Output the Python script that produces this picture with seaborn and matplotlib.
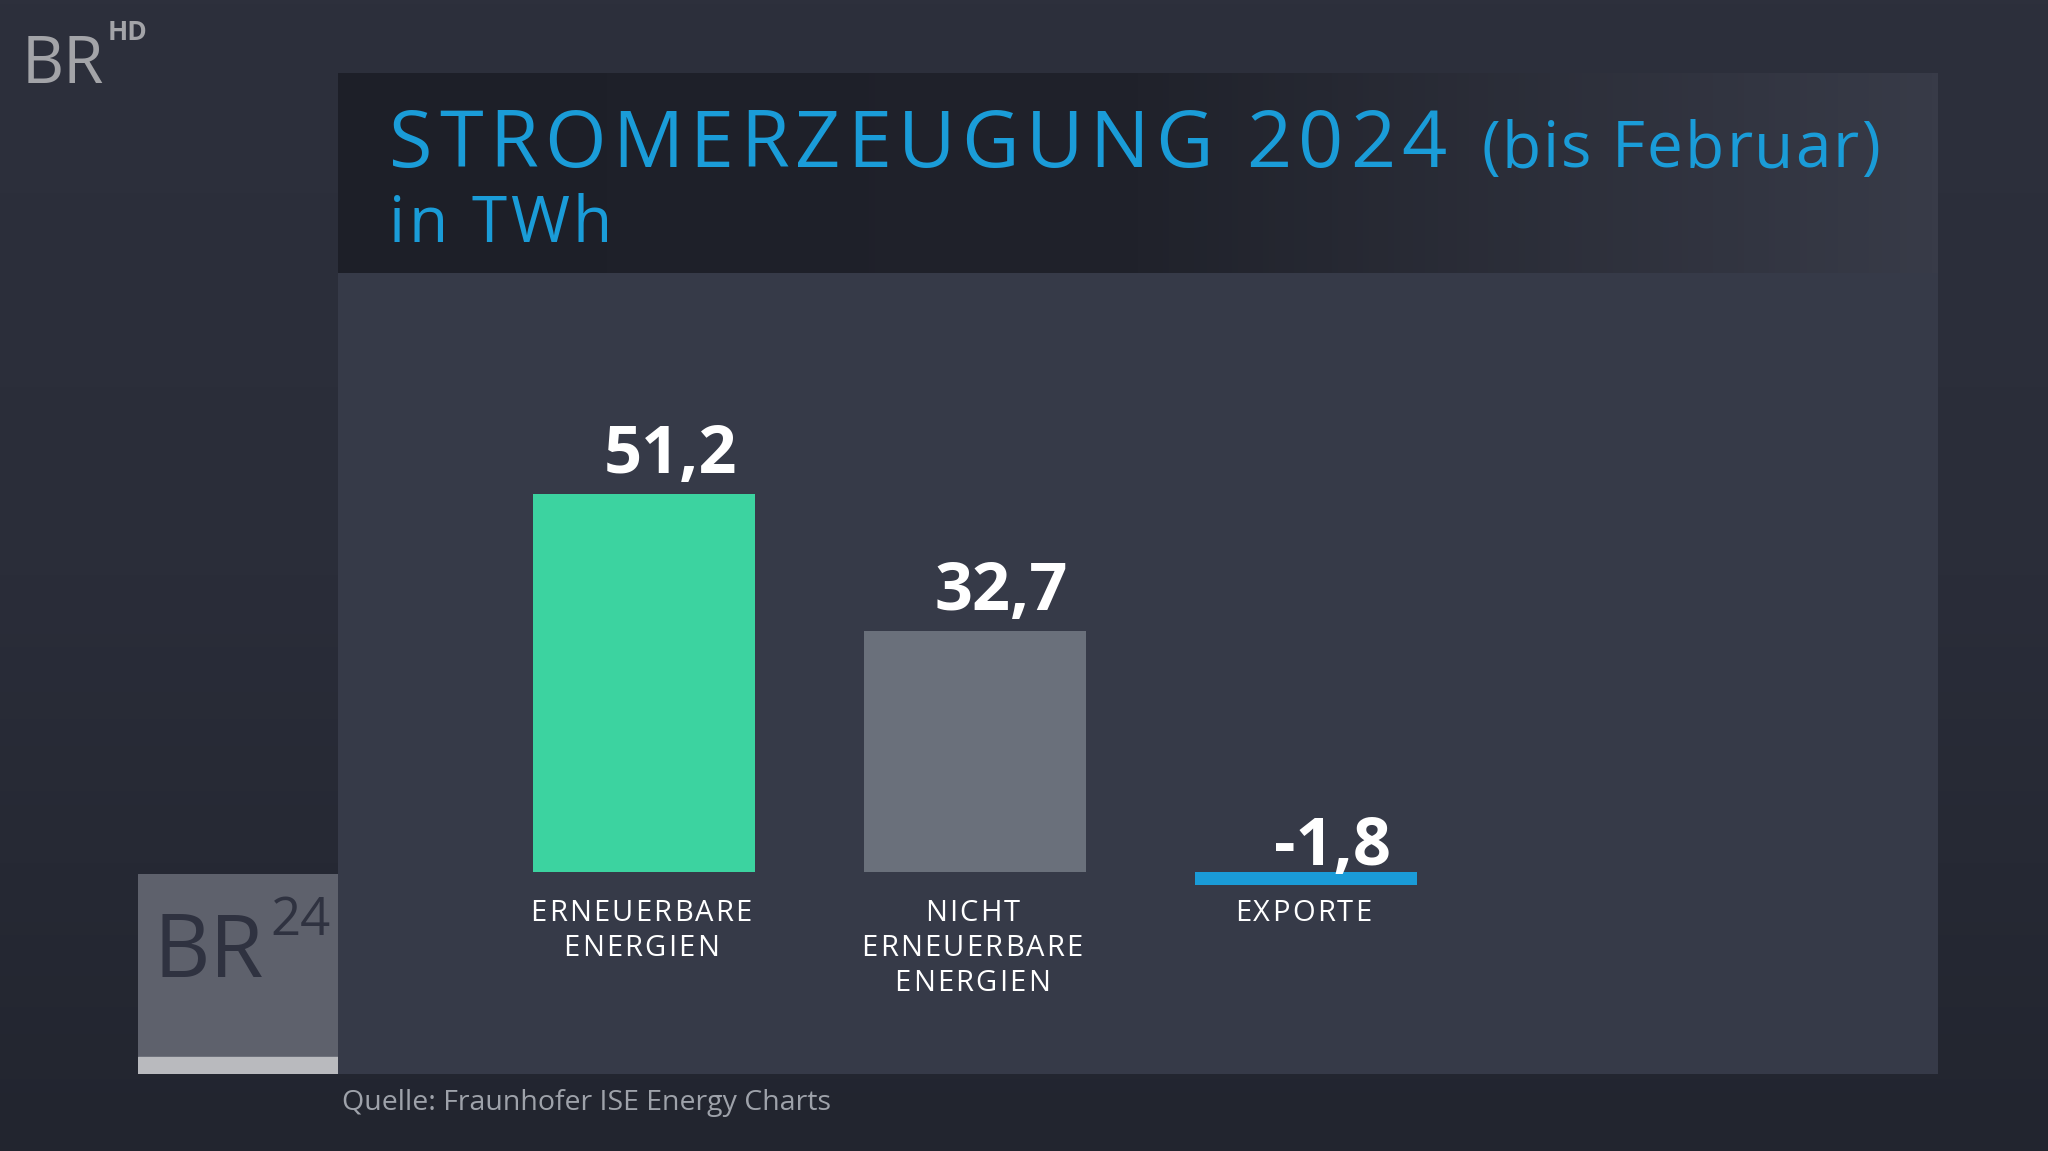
import numpy as np
import pandas as pd
import matplotlib.pyplot as plt
import seaborn as sns
from matplotlib.patches import Rectangle
from matplotlib.colors import LinearSegmentedColormap

#Chart data
categories = ['ERNEUERBARE\nENERGIEN', 'NICHT\nERNEUERBARE\nENERGIEN', 'EXPORTE']
values = [51.2, 32.7, -1.8]
value_labels = ['51,2', '32,7', '-1,8']
bar_colors = ['#3cd3a0', '#6a707b', '#1a9bd7']

title = 'STROMERZEUGUNG 2024'
title_extra = '(bis Februar)'
subtitle = 'in TWh'
source = 'Quelle: Fraunhofer ISE Energy Charts'

W, H = 2048, 1151
BLUE = '#1a9cd8'

sns.set_theme(style='dark')
plt.rcParams['font.family'] = ['Open Sans', 'DejaVu Sans']

fig = plt.figure(figsize=(W / 100, H / 100), dpi=100, facecolor='#2b2e3a')
renderer = fig.canvas.get_renderer()

def fx(px):
    return px / W

def fy(py):
    return 1 - py / H

def advance(ch, kw):
    #width of a glyph incl. spacing, measured between two H's
    t1 = fig.text(0, 0, 'H' + ch + 'H', **kw)
    t2 = fig.text(0, 0, 'HH', **kw)
    w = t1.get_window_extent(renderer).width - t2.get_window_extent(renderer).width
    t1.remove()
    t2.remove()
    return w

def spaced(x, y, s, track, ha='left', **kw):
    #x, y in display pixels (y from bottom, baseline); draws letter by letter
    widths = [advance(ch, kw) for ch in s]
    total = sum(widths) + track * (len(s) - 1)
    if ha == 'center':
        x -= total / 2
    for ch, w in zip(s, widths):
        if ch != ' ':
            fig.text(x / W, y / H, ch, va='baseline', ha='left', **kw)
        x += w + track
    return x

#Background with a slight darkening towards the bottom
ax_bg = fig.add_axes([0, 0, 1, 1], zorder=-10)
bcmap = LinearSegmentedColormap.from_list('bg', ['#2d303c', '#2a2d39', '#22252f'])
ax_bg.imshow(np.linspace(0, 1, 256)[:, None], aspect='auto', cmap=bcmap)
ax_bg.axis('off')

#Panel behind the chart
ax_p = fig.add_axes([fx(338), fy(1074), fx(1600), 1001 / H], zorder=-9)
ax_p.set_facecolor('#363a48')
ax_p.set_xticks([])
ax_p.set_yticks([])
for sp in ax_p.spines.values():
    sp.set_visible(False)

#Header band with a soft gradient to the right
ax_h = fig.add_axes([fx(338), fy(273), fx(1600), 200 / H], zorder=-8)
hcmap = LinearSegmentedColormap.from_list('hdr', ['#1d1f28', '#20222b', '#383b48'])
ax_h.imshow(np.linspace(0, 1, 256)[None, :], aspect='auto', cmap=hcmap)
ax_h.axis('off')

#Bars
df = pd.DataFrame({'kategorie': categories, 'twh': values})
ax = fig.add_axes([fx(338), fy(1074), fx(1600), 801 / H])
ax.set_facecolor('none')
sns.barplot(data=df, x='kategorie', y='twh', hue='kategorie', palette=bar_colors,
            width=0.67, saturation=1, legend=False, linewidth=0, ax=ax)
ax.set_xlim(-0.9245, 3.909)
ax.set_ylim(-27.4, 81.2)
ax.axis('off')

#Value labels above the bars
for i, (v, lab) in enumerate(zip(values, value_labels)):
    dy = 15 if v > 0 else 5
    ax.annotate(lab, xy=(i, max(v, 0)), xytext=(19, dy), textcoords='offset points',
                ha='center', va='baseline', fontsize=48, fontweight='bold', color='white')

#Category labels below the baseline, letter-spaced
cat_kw = dict(fontsize=21, color='white')
for i, cat in enumerate(categories):
    cx, cy = ax.transData.transform((i, 0))
    for k, line in enumerate(cat.split('\n')):
        spaced(cx - 3, cy - 49 - 35 * k, line, 2.2, ha='center', **cat_kw)

#Title
spaced(389, H - 167, title, 6.4, fontsize=57, color=BLUE)
spaced(1481, H - 167, title_extra, 2.0, fontsize=46, color=BLUE)
spaced(389, H - 242, subtitle, 3.4, fontsize=46, color=BLUE)

#Source
fig.text(fx(342), fy(1110), source, fontsize=20.5, color='#9ea2aa', va='baseline')

#BR HD logo
fig.text(fx(22), fy(83), 'BR', fontsize=47, color='#a3a4a8', va='baseline')
fig.text(fx(108), fy(40), 'HD', fontsize=19, color='#a3a4a8', va='baseline', fontweight='bold')

#BR24 box
ax_l = fig.add_axes([fx(138), fy(1074), fx(200), 200 / H], zorder=-7)
ax_l.set_xlim(0, 1)
ax_l.set_ylim(0, 1)
ax_l.add_patch(Rectangle((0, 0), 1, 1, color='#5e616c'))
ax_l.add_patch(Rectangle((0, 0), 1, 17 / 200, color='#b9babe'))
ax_l.axis('off')
fig.text(fx(154), fy(977), 'BR', fontsize=63, color='#2f3240', va='baseline')
fig.text(fx(270), fy(935), '24', fontsize=38, color='#2f3240', va='baseline')

fig.savefig('out.png', dpi=100, facecolor=fig.get_facecolor())
